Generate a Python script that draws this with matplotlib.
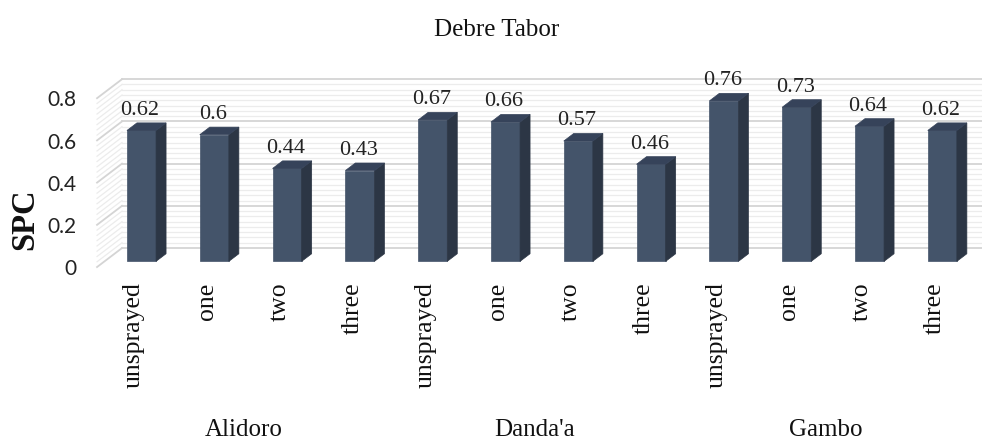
import numpy as np
import matplotlib.pyplot as plt
from matplotlib.patches import Polygon

titulo = "Debre Tabor"
grupos = ["Alidoro", "Danda'a", "Gambo"]
tratamientos = ["unsprayed", "one", "two", "three"]
spc = [0.62, 0.6, 0.44, 0.43, 0.67, 0.66, 0.57, 0.46, 0.76, 0.73, 0.64, 0.62]
ticks_y = [0, 0.2, 0.4, 0.6, 0.8]

serif = "Liberation Serif"

fig = plt.figure(figsize=(9.82, 4.39), dpi=100)
ax = fig.add_axes([0, 0, 1, 1])
ax.set_xlim(-1.841, 11.648)
ax.set_ylim(-0.810, 1.270)
ax.axis("off")

# profundidad del efecto 3D (en unidades de datos)
dx, dy = 0.343, 0.090
x_pared = -0.508

# lineas de la pared (fondo y lateral)
menores = np.arange(0, 0.8001, 0.025)
for v in menores:
    mayor = abs(v / 0.2 - round(v / 0.2)) < 1e-6
    color = "#d4d4d4" if mayor else "#ececec"
    lw = 1.3 if mayor else 0.9
    ax.plot([x_pared, x_pared + dx], [v, v + dy], color=color, lw=lw, zorder=1)
    ax.plot([x_pared + dx, 12.5], [v + dy, v + dy], color=color, lw=lw, zorder=1)

# barras
frente = "#44546a"
lado = "#2c3645"
tapa = "#36435a"
w = 0.4
for i, v in enumerate(spc):
    cx = i + 0.3 * dx
    y0 = 0.3 * dy
    x0, x1 = cx - w / 2, cx + w / 2
    bx, by = 0.4 * dx, 0.4 * dy
    ax.add_patch(Polygon([(x0, y0), (x1, y0), (x1, y0 + v), (x0, y0 + v)],
                         closed=True, facecolor=frente, edgecolor=frente, lw=0.5, zorder=3))
    ax.add_patch(Polygon([(x1, y0), (x1 + bx, y0 + by), (x1 + bx, y0 + v + by), (x1, y0 + v)],
                         closed=True, facecolor=lado, edgecolor=lado, lw=0.5, zorder=3))
    ax.add_patch(Polygon([(x0, y0 + v), (x1, y0 + v), (x1 + bx, y0 + v + by), (x0 + bx, y0 + v + by)],
                         closed=True, facecolor=tapa, edgecolor=tapa, lw=0.5, zorder=3))
    ax.annotate(str(v), (cx - 0.02, y0 + v), xytext=(0, 12), textcoords="offset points",
                ha="center", va="baseline", fontsize=16, family=serif, color="#222222")

# etiquetas del eje y
for t in ticks_y:
    ax.text(-0.797, t - 0.006, "%g" % t, ha="right", va="center", fontsize=15,
            family="Lato", color="#222222")

# etiquetas de categorias
for i in range(len(spc)):
    ax.text(i, -0.068, tratamientos[i % 4], rotation=90, ha="center", va="top",
            fontsize=18.5, family=serif, color="#111111")

for g, nombre in enumerate(grupos):
    ax.text(g * 4 + 1.5, -0.795, nombre, ha="center", va="baseline",
            fontsize=18, family=serif, color="#111111")

ax.text(0.506, 0.918, titulo, transform=fig.transFigure, ha="center", va="baseline",
        fontsize=18, family=serif, color="#111111")
ax.text(0.025, 0.50, "SPC", transform=fig.transFigure, rotation=90, ha="center",
        va="center", fontsize=23.5, fontweight="bold", family=serif, color="#111111")

fig.savefig("out.png", dpi=100)
